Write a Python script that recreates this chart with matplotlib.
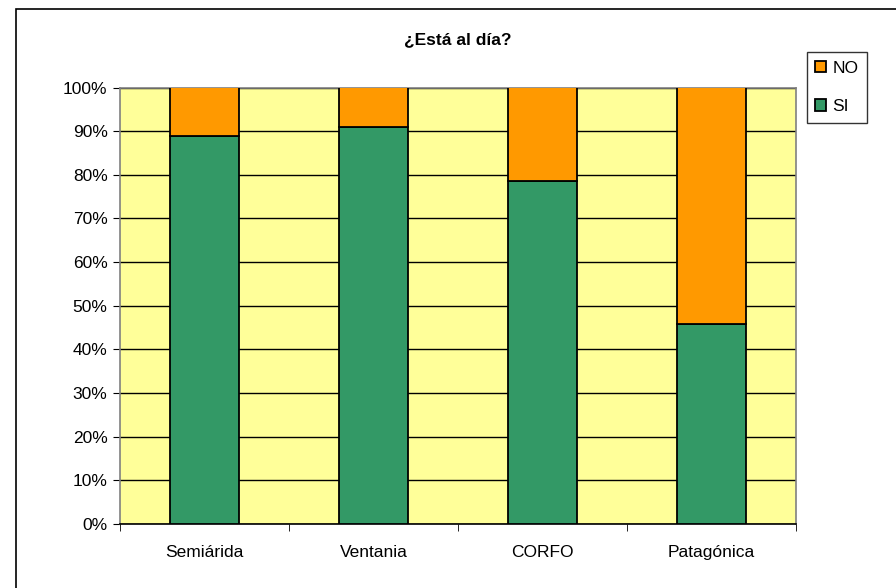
import numpy as np
import matplotlib.pyplot as plt
from matplotlib.patches import Rectangle

plt.rcParams['font.family'] = ['Liberation Sans', 'DejaVu Sans']

# datos (porcentaje)
categorias = ['Semiárida', 'Ventania', 'CORFO', 'Patagónica']
si = [88.9, 91.0, 78.5, 45.8]
no = [100 - v for v in si]

verde = '#339966'
naranja = '#FF9900'
amarillo = '#FFFF99'
fs = 12.5

fig = plt.figure(figsize=(8.96, 5.88), dpi=100)
ax = fig.add_axes([120 / 896, 1 - 524 / 588, 676 / 896, 436.5 / 588])
ax.set_facecolor(amarillo)

# borde exterior del grafico (solo se ve arriba e izquierda)
fig.patches.append(Rectangle((16 / 896, -0.05), 1.2, 1 - 9 / 588 + 0.05,
                             transform=fig.transFigure, fill=False,
                             edgecolor='black', lw=1.2))

x = np.arange(len(categorias))
ax.bar(x, si, width=0.41, color=verde, edgecolor='black', lw=1.3, label='SI', zorder=3)
ax.bar(x, no, width=0.41, bottom=si, color=naranja, edgecolor='black', lw=1.3,
       label='NO', zorder=3)

ax.set_xlim(-0.5, len(categorias) - 0.5)
ax.set_ylim(0, 100)
ax.set_yticks(np.arange(0, 101, 10))
ax.set_yticklabels([f'{v}%' for v in range(0, 101, 10)], fontsize=fs)
ax.yaxis.grid(True, color='black', lw=1)
ax.set_axisbelow(True)

ax.set_xticks(x)
ax.set_xticklabels(categorias, fontsize=fs)
ax.tick_params(axis='x', length=0, pad=15)
ax.set_xticks(np.arange(-0.5, len(categorias)), minor=True)
ax.tick_params(axis='x', which='minor', length=5, color='black')
ax.tick_params(axis='y', length=5, color='black', pad=4)

for s in ax.spines.values():
    s.set_color('#808080')
    s.set_linewidth(1.2)
ax.spines['bottom'].set_color('black')

fig.text(458 / 896, 1 - 40 / 588, '¿Está al día?', ha='center', va='center',
         fontsize=12.5, fontweight='bold')

h, l = ax.get_legend_handles_labels()
leg = fig.legend(h[::-1], l[::-1], loc='upper left',
                 bbox_to_anchor=(806.5 / 896, 1 - 52 / 588), fontsize=fs,
                 frameon=True, fancybox=False, edgecolor='black',
                 handlelength=0.63, handleheight=0.63, handletextpad=0.35,
                 labelspacing=1.35, borderpad=0.5, borderaxespad=0)
leg.get_frame().set_linewidth(1)

fig.savefig('out.png', dpi=100)
